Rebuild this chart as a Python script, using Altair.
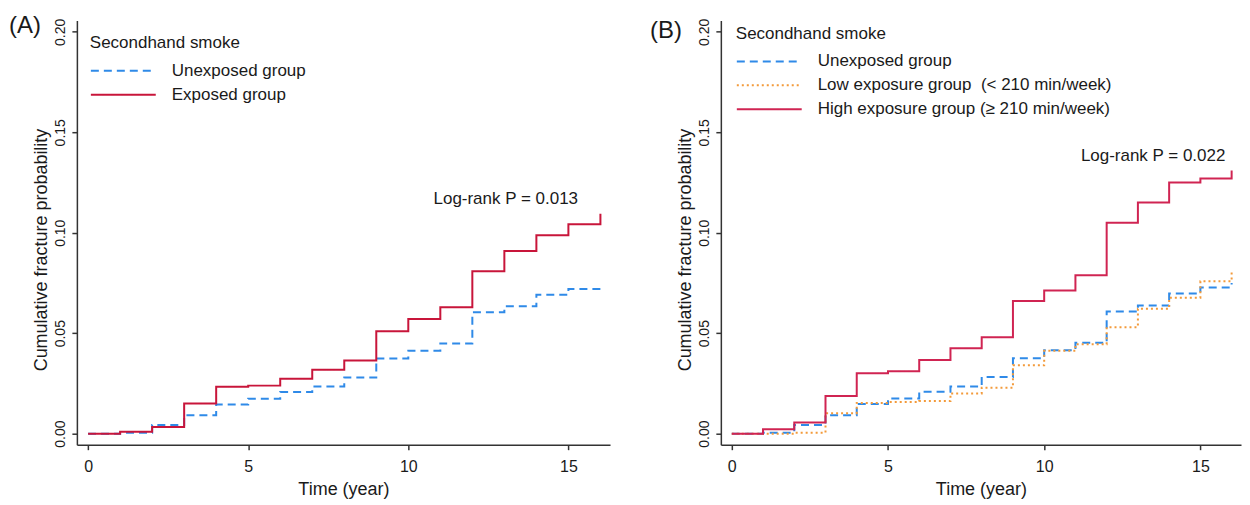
import altair as alt
import pandas as pd

# ---------------- data ----------------
times = list(range(17))  # step starts 0..15, plus the end at 16

a_unexposed = [0.0, 0.0005, 0.0043, 0.0092, 0.0145, 0.0174, 0.0207, 0.0235, 0.0280,
               0.0374, 0.0413, 0.0449, 0.0604, 0.0634, 0.0691, 0.0720, 0.0740]
a_exposed = [0.0, 0.0010, 0.0033, 0.0150, 0.0234, 0.0239, 0.0273, 0.0318, 0.0364,
             0.0510, 0.0571, 0.0629, 0.0808, 0.0909, 0.0988, 0.1042, 0.1095]

b_unexposed = [0.0, 0.0005, 0.0043, 0.0092, 0.0148, 0.0175, 0.0208, 0.0235, 0.0282,
               0.0375, 0.0415, 0.0452, 0.0608, 0.0638, 0.0697, 0.0727, 0.0750]
b_low = [0.0, 0.0, 0.0005, 0.0102, 0.0153, 0.0158, 0.0162, 0.0200, 0.0228,
         0.0340, 0.0412, 0.0445, 0.0530, 0.0622, 0.0677, 0.0758, 0.0815]
b_high = [0.0, 0.0022, 0.0055, 0.0187, 0.0300, 0.0310, 0.0367, 0.0425, 0.0480,
          0.0660, 0.0712, 0.0788, 0.1050, 0.1150, 0.1250, 0.1270, 0.1310]

a_groups = ["Unexposed group", "Exposed group"]
b_groups = ["Unexposed group",
            "Low exposure group\u00a0 (< 210 min/week)",
            "High exposure group (\u2265 210 min/week)"]

x_ticks = [0, 5, 10, 15]
y_ticks = [0.0, 0.05, 0.10, 0.15, 0.20]

legend_title = "Secondhand smoke"
x_title = "Time (year)"
y_title = "Cumulative fracture probability"

a_tag = ["(A)"]
b_tag = ["(B)"]
a_pvalue = ["Log-rank P = 0.013"]
b_pvalue = ["Log-rank P = 0.022"]
a_pvalue_at = [15.3, 0.1167]
b_pvalue_at = [15.8, 0.138]

# ---------------- styles ----------------
BLUE = "#2F8AE8"
RED_A = "#C8153A"
RED_B = "#D02452"
ORANGE = "#F39A3A"
INK = "#1A1A1A"
FONT = "Arial"


def make_df(groups, series):
    rows = []
    for g, vals in zip(groups, series):
        for t, v in zip(times, vals):
            rows.append({"group": g, "time": t, "value": v})
    return pd.DataFrame(rows)


def panel(groups, series, colors, dashes, width, tag, tag_x, tag_y,
          ptext, pat, leg_x, leg_y):
    df = make_df(groups, series)
    xs = alt.Scale(domain=[-0.35, 16.3], nice=False, zero=False)
    ys = alt.Scale(domain=[-0.0055, 0.2057], nice=False, zero=False)
    xaxis = alt.Axis(values=x_ticks, format="d", title=x_title,
                     labelFontSize=16, labelBaseline="alphabetic", labelPadding=22,
                     labelFlush=False, tickSize=5,
                     titleFontSize=18, titleFontWeight="normal",
                     titleBaseline="alphabetic", titleY=50)
    yaxis = alt.Axis(values=y_ticks, format=".2f", title=y_title,
                     labelAngle=-90, labelAlign="center", labelBaseline="alphabetic",
                     labelFontSize=14, labelPadding=7, labelFlush=False, tickSize=5,
                     titleFontSize=18, titleFontWeight="normal", titleAngle=-90,
                     titleAlign="center", titleBaseline="alphabetic",
                     titleX=-30, titleY=229.5)
    leg = alt.Legend(orient="none", legendX=leg_x, legendY=leg_y,
                     title=legend_title, titleFontSize=17, titleFontWeight="normal",
                     titleColor=INK, titlePadding=10, titleLimit=0,
                     labelFontSize=17, labelColor=INK, labelLimit=0, labelOffset=15,
                     symbolType="stroke", symbolSize=4225, symbolStrokeWidth=2,
                     rowPadding=6, clipHeight=17, padding=0)
    color = alt.Color("group:N", scale=alt.Scale(domain=groups, range=colors), legend=leg)
    dash = alt.StrokeDash("group:N", scale=alt.Scale(domain=groups, range=dashes), legend=leg)

    layers = []
    for g in groups:
        layers.append(
            alt.Chart(df).transform_filter(alt.datum.group == g)
            .mark_line(interpolate="step-after", strokeWidth=2)
            .encode(x=alt.X("time:Q", scale=xs, axis=xaxis),
                    y=alt.Y("value:Q", scale=ys, axis=yaxis),
                    color=color, strokeDash=dash)
        )
    ann = alt.Chart(pd.DataFrame({"label": ptext, "x": [pat[0]], "y": [pat[1]]})).mark_text(
        align="right", baseline="middle", fontSize=17, color=INK, font=FONT
    ).encode(x=alt.X("x:Q", scale=xs), y=alt.Y("y:Q", scale=ys), text="label:N")
    tagc = alt.Chart(pd.DataFrame({"label": tag})).mark_text(
        align="left", baseline="alphabetic", fontSize=24, color=INK, font=FONT
    ).encode(x=alt.value(tag_x), y=alt.value(tag_y), text="label:N")
    return alt.layer(*layers, ann, tagc).properties(width=width, height=425)


pa = panel(a_groups, [a_unexposed, a_exposed], [BLUE, RED_A],
           [[8, 5], [1, 0]], 534, a_tag, -68, 12.5, a_pvalue, a_pvalue_at, 13, 15)
pb = panel(b_groups, [b_unexposed, b_low, b_high], [BLUE, ORANGE, RED_B],
           [[8, 5], [2, 3], [1, 0]], 521, b_tag, -71, 17.5, b_pvalue, b_pvalue_at, 15, 5.6)

chart = alt.hconcat(pa, pb, spacing=111, bounds="flush").resolve_scale(
    color="independent", strokeDash="independent", x="independent", y="independent"
).resolve_legend(color="independent", strokeDash="independent").properties(
    padding={"left": 0, "top": 5, "right": 0, "bottom": 0}
).configure(font=FONT).configure_view(stroke="transparent").configure_axis(
    grid=False, domainColor="#333333", domainWidth=1.5, tickColor="#333333",
    tickWidth=1.5, labelColor=INK, titleColor=INK, labelFont=FONT, titleFont=FONT
).configure_legend(labelFont=FONT, titleFont=FONT)

chart.save("out.html", embed_options={"renderer": "svg", "actions": False})
